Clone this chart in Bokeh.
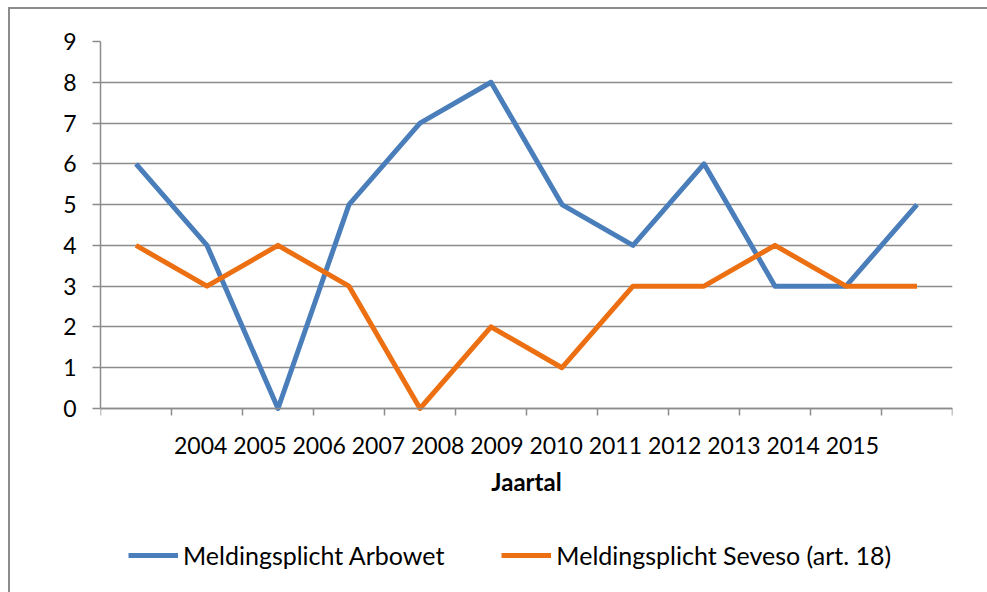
from bokeh.plotting import figure
from bokeh.models import (Range1d, LinearAxis, FixedTicker, Legend, LegendItem, Label)
from bokeh.embed import file_html
from bokeh.resources import INLINE

# ---- data ----
years = ["2004", "2005", "2006", "2007", "2008", "2009",
         "2010", "2011", "2012", "2013", "2014", "2015"]
arbowet = [6, 4, 0, 5, 7, 8, 5, 4, 6, 3, 3, 5]
seveso = [4, 3, 4, 3, 0, 2, 1, 3, 3, 4, 3, 3]
y_ticks = [0, 1, 2, 3, 4, 5, 6, 7, 8, 9]
series_names = ["Meldingsplicht Arbowet", "Meldingsplicht Seveso (art. 18)"]
x_title = "Jaartal"

FONT = "Lato"
FS = "23px"
GRAY = "#8c8c8c"
BLUE = "#4a7ebb"
ORANGE = "#ec6f12"

n = len(years)
pos = list(range(n))                              # category index of each year
boundaries = [i - 0.5 for i in range(n + 1)]      # category boundaries (tick marks)

# ---- layout (pixels) ----
W, H = 987, 592
LEFT, RIGHT, TOP, BOTTOM = 100, 35, 41, 20
PLOT_H = 367                       # pixel height of the 0..9 value band
FRAME_W = W - LEFT - RIGHT
FRAME_H = H - TOP - BOTTOM
y_max = y_ticks[-1]
px_per_unit = PLOT_H / y_max
y_min = y_max - FRAME_H / px_per_unit   # frame extends below 0 to hold titles / legend

p = figure(width=W, height=H, frame_width=FRAME_W, frame_height=FRAME_H,
           x_range=Range1d(-0.5, n - 0.5),
           y_range=Range1d(y_min, y_max),
           x_axis_location=None,
           output_backend="svg", toolbar_location=None,
           min_border_left=LEFT, min_border_right=RIGHT,
           min_border_top=TOP, min_border_bottom=BOTTOM)
p.outline_line_color = None
p.background_fill_color = "white"
p.border_fill_color = None
# chart-area border (top and left edges visible in the reference)
p.styles = {
    "background-color": "white",
    "background-image": "linear-gradient(%s, %s), linear-gradient(%s, %s)" % (GRAY, GRAY, GRAY, GRAY),
    "background-size": "100% 2px, 2px 100%",
    "background-position": "8px 7px, 8px 7px",
    "background-repeat": "no-repeat",
}

# y axis
yax = p.yaxis[0]
yax.ticker = FixedTicker(ticks=y_ticks)
yax.bounds = (y_ticks[0], y_ticks[-1])
yax.major_tick_out = 8
yax.major_tick_in = 0
yax.minor_tick_out = 0
yax.minor_tick_in = 0
yax.axis_line_color = GRAY
yax.axis_line_width = 1.5
yax.major_tick_line_color = GRAY
yax.major_tick_line_width = 1.5
yax.major_label_standoff = 16
yax.major_label_text_font = FONT
yax.major_label_text_font_size = FS
yax.major_label_text_color = "black"

for g in p.grid:
    if g.dimension == 1:
        g.ticker = FixedTicker(ticks=y_ticks)
        g.grid_line_color = GRAY
        g.grid_line_width = 1.5
    else:
        g.visible = False

# x axis at value 0 with ticks on the category boundaries
xax = LinearAxis(ticker=FixedTicker(ticks=boundaries), fixed_location=0,
                 major_tick_out=7, major_tick_in=0,
                 minor_tick_out=0, minor_tick_in=0,
                 axis_line_color=GRAY, axis_line_width=1.5,
                 major_tick_line_color=GRAY, major_tick_line_width=1.5,
                 major_label_text_font_size="1px", major_label_text_color=None,
                 major_label_standoff=0)
p.add_layout(xax, "below")

# years shown as one centered line of text under the axis, then the axis title
p.add_layout(Label(x=(n - 1) / 2, y=-36 / px_per_unit, text=" ".join(years),
                   text_align="center", text_baseline="middle",
                   text_font=FONT, text_font_size=FS, text_color="black"))
p.add_layout(Label(x=(n - 1) / 2, y=-73 / px_per_unit, text=x_title,
                   text_align="center", text_baseline="middle",
                   text_font=FONT, text_font_size="24px", text_font_style="bold",
                   text_color="black"))

r1 = p.line(x=pos, y=arbowet, line_color=BLUE, line_width=5, line_join="round")
r2 = p.line(x=pos, y=seveso, line_color=ORANGE, line_width=5, line_join="round")

legend = Legend(items=[LegendItem(label=series_names[0], renderers=[r1]),
                       LegendItem(label=series_names[1], renderers=[r2])],
                orientation="horizontal",
                location=(28, 2),
                glyph_width=50, glyph_height=20,
                label_standoff=5, spacing=57,
                padding=0, margin=0,
                label_text_font=FONT, label_text_font_size="25px",
                label_text_color="black",
                border_line_color=None, background_fill_alpha=0)
p.add_layout(legend, "center")

open("out.html", "w").write(file_html(p, INLINE))
